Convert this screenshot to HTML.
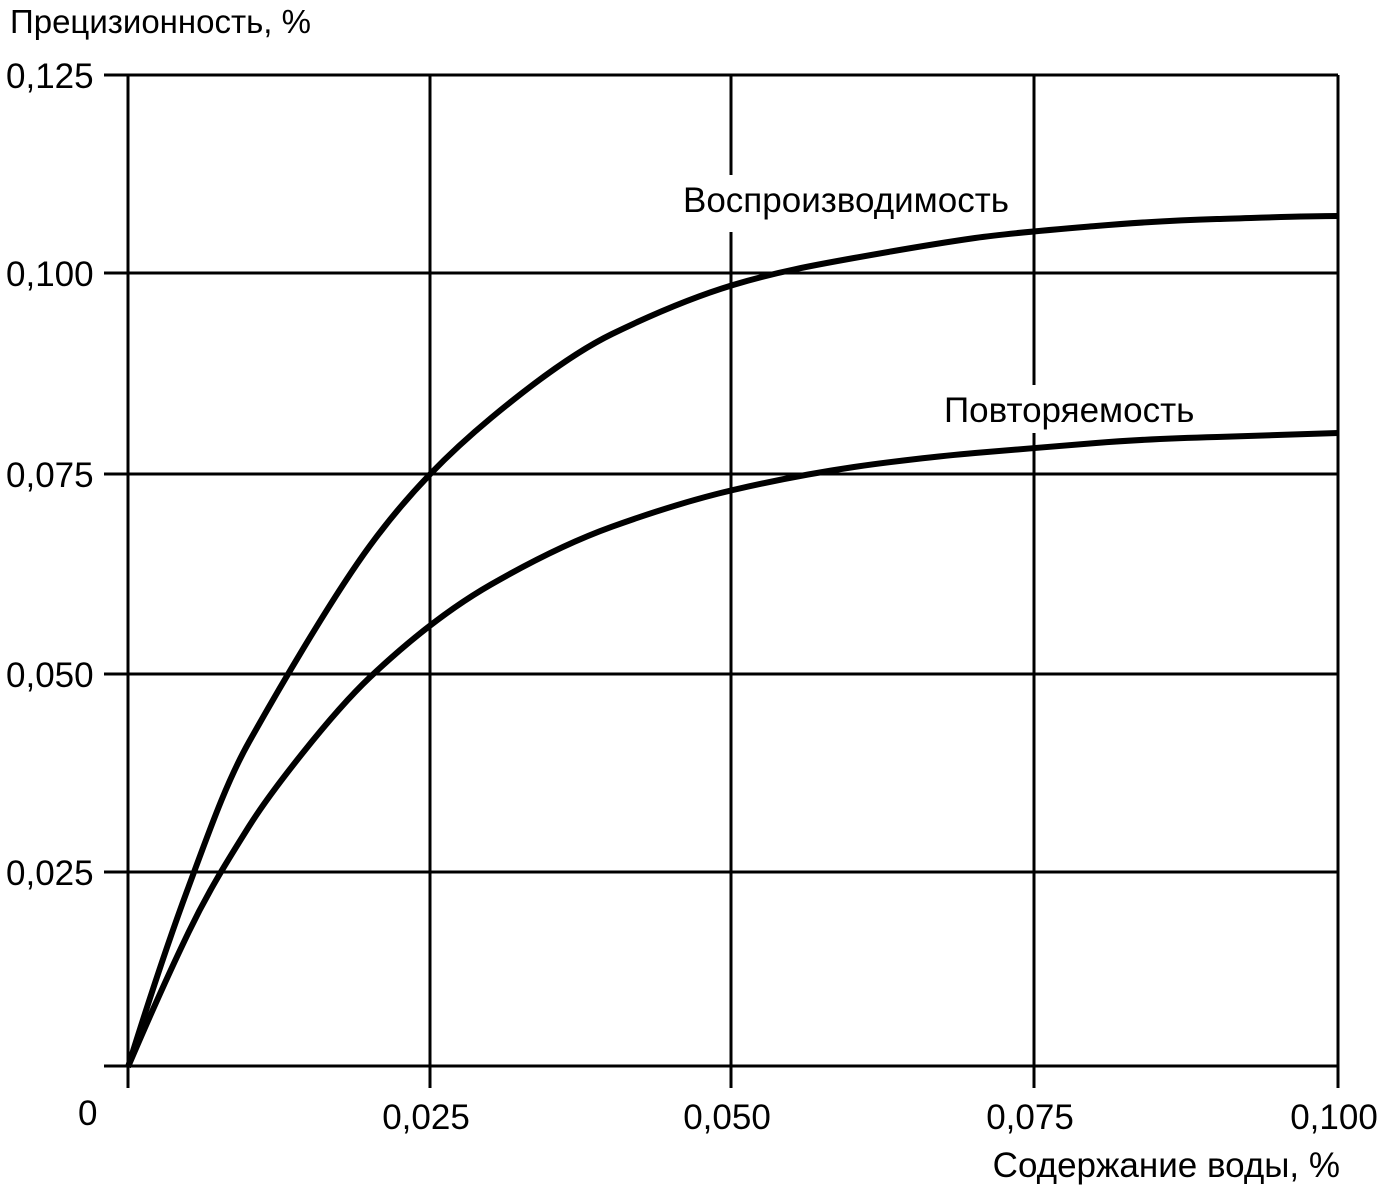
<!DOCTYPE html>
<html><head><meta charset="utf-8"><style>
html,body{margin:0;padding:0;background:#fff;}
svg text{font-family:"Liberation Sans",Arial,sans-serif;fill:#000;}
</style></head><body>
<svg width="1385" height="1187" viewBox="0 0 1385 1187" xmlns="http://www.w3.org/2000/svg">
<g stroke="#000" stroke-width="3" fill="none">
<line x1="104" y1="75" x2="1338" y2="75"/>
<line x1="104" y1="273" x2="1338" y2="273"/>
<line x1="104" y1="474" x2="1338" y2="474"/>
<line x1="104" y1="674" x2="1338" y2="674"/>
<line x1="104" y1="872" x2="1338" y2="872"/>
<line x1="104" y1="1066" x2="1338" y2="1066"/>
<line x1="128" y1="75" x2="128" y2="1088"/>
<line x1="430" y1="75" x2="430" y2="1088"/>
<line x1="731" y1="75" x2="731" y2="175"/>
<line x1="731" y1="232" x2="731" y2="1088"/>
<line x1="1034" y1="75" x2="1034" y2="385"/>
<line x1="1034" y1="433" x2="1034" y2="1088"/>
<line x1="1338" y1="75" x2="1338" y2="1088"/>
</g>
<g stroke="#000" stroke-width="6" fill="none" stroke-linejoin="round">
<path d="M128,1067 C148,1003 168,942 188.5,887 S226,783 249,742 S330,600 370,545.6 S450,452 491,418 S575,352 612,334 S690,298 733,285 S815,265 854,258 S940,243 975,238 S1060,229 1096,226 S1180,220 1217,219 S1300,216 1338,216"/>
<path d="M128,1067 C148,1020 168,975 188.5,932.4 S228,860 249,826.4 S330,715 370,677.2 S450,608 491,584.5 S575,540 612,526.7 S690,500 733,490 S820,472 854,467 S940,456 975,453 S1060,446 1096,443 S1180,438 1217,437 S1300,434 1338,433"/>
</g>
<g font-size="35">
<text x="10" y="33" font-size="33">Прецизионность, %</text>
<text x="6" y="88">0,125</text>
<text x="6" y="286">0,100</text>
<text x="6" y="487">0,075</text>
<text x="6" y="687">0,050</text>
<text x="6" y="885">0,025</text>
<text x="78" y="1125">0</text>
<text x="426" y="1129" text-anchor="middle">0,025</text>
<text x="727" y="1129" text-anchor="middle">0,050</text>
<text x="1030" y="1129" text-anchor="middle">0,075</text>
<text x="1334" y="1129" text-anchor="middle">0,100</text>
<text x="1340" y="1177" text-anchor="end">Содержание воды, %</text>
<text x="683" y="212">Воспроизводимость</text>
<text x="944" y="422">Повторяемость</text>
</g>
</svg>
</body></html>
